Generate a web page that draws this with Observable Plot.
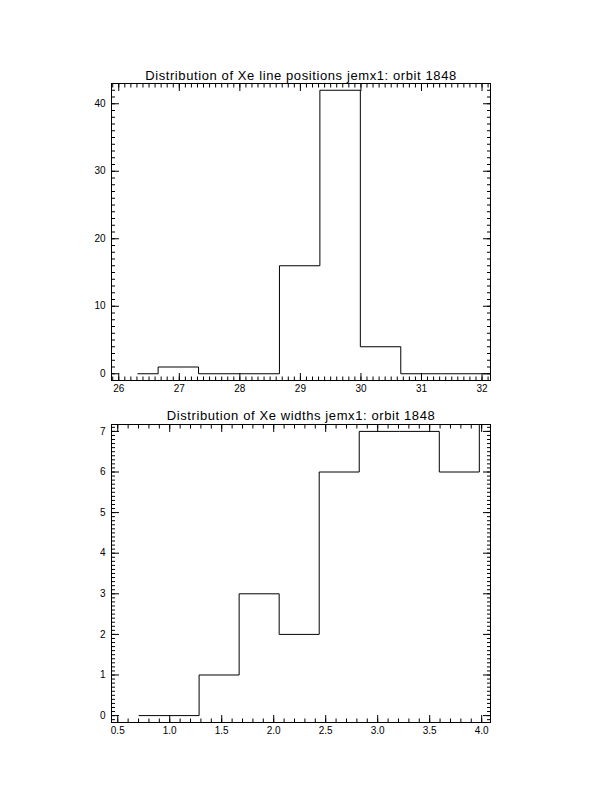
<!DOCTYPE html>
<html>
<head>
<meta charset="utf-8">
<script src="https://cdn.jsdelivr.net/npm/d3@7"></script>
<script src="https://cdn.jsdelivr.net/npm/@observablehq/plot@0.6"></script>
<style>
  html, body { margin: 0; padding: 0; background: #fff; }
  #wrap { width: 612px; height: 792px; position: relative; }
  #wrap svg { display: block; }
  #wrap svg .panel-title, #wrap svg .panel-title text { letter-spacing: 0.6px; }
</style>
</head>
<body>
<div id="wrap"></div>
<script>
// Histogram of fitted Xe line positions (bin centres and counts)
const posTitle = "Distribution of Xe line positions jemx1: orbit 1848";
const posCenters = [26.316, 26.984, 27.652, 28.32, 28.988, 29.656, 30.324, 30.992, 31.66, 32.328];
const posCounts = [0, 1, 0, 0, 16, 42, 4, 0, 0, 0];
const posXTicks = [26, 27, 28, 29, 30, 31, 32];
const posYTicks = [0, 10, 20, 30, 40];

// Histogram of fitted Xe line widths
const widTitle = "Distribution of Xe widths jemx1: orbit 1848";
const widCenters = [0.705, 1.09, 1.475, 1.86, 2.245, 2.63, 3.015, 3.4, 3.785, 4.17];
const widCounts = [0, 0, 1, 3, 2, 6, 7, 7, 6, 8];
const widXTicks = [0.5, 1.0, 1.5, 2.0, 2.5, 3.0, 3.5, 4.0];
const widYTicks = [0, 1, 2, 3, 4, 5, 6, 7];

const FONT = "Liberation Sans, Arial, Helvetica, sans-serif";
const blank = () => "";

// IDL-style boxed histogram: inward ticks on all four sides, step line through bin centres
function histPanel({title, centers, counts, xDomain, yDomain, xTicks, yTicks, xMinor, yMinor, xFormat, yFormat, margins, height, titleDy}) {
  const rows = centers.map((c, i) => ({x: c, y: counts[i]}));
  const tickAxes = [];
  for (const anchor of ["bottom", "top"]) {
    tickAxes.push(Plot.axisX({anchor, ticks: xTicks, tickSize: -7, tickFormat: blank, label: null, strokeWidth: 1}));
    tickAxes.push(Plot.axisX({anchor, ticks: xMinor, tickSize: -3.5, tickFormat: blank, label: null, strokeWidth: 1}));
  }
  for (const anchor of ["left", "right"]) {
    tickAxes.push(Plot.axisY({anchor, ticks: yTicks, tickSize: -8, tickFormat: blank, label: null, strokeWidth: 1}));
    tickAxes.push(Plot.axisY({anchor, ticks: yMinor, tickSize: -4, tickFormat: blank, label: null, strokeWidth: 1}));
  }
  return Plot.plot({
    width: 612,
    height,
    ...margins,
    style: {fontFamily: FONT, fontSize: "10px", color: "#000", background: "#fff", overflow: "visible"},
    x: {domain: xDomain, axis: null},
    y: {domain: yDomain, axis: null},
    marks: [
      Plot.line(rows, {x: "x", y: "y", curve: "step", stroke: "#000", strokeWidth: 1, clip: true}),
      ...tickAxes,
      Plot.axisX({anchor: "bottom", ticks: xTicks, tickSize: 0, tickPadding: 4, tickFormat: xFormat, label: null, fontSize: 10}),
      Plot.axisY({anchor: "left", ticks: yTicks, tickSize: 0, tickPadding: 6, tickFormat: yFormat, label: null, fontSize: 10}),
      Plot.frame({stroke: "#000", strokeWidth: 1}),
      Plot.text([title], {frameAnchor: "top", lineAnchor: "bottom", dy: titleDy, fontSize: 13, fill: "#000", className: "panel-title"})
    ]
  });
}

const wrap = document.getElementById("wrap");

wrap.appendChild(histPanel({
  title: posTitle,
  centers: posCenters,
  counts: posCounts,
  xDomain: [25.88, 32.14],
  yDomain: [-1, 43],
  xTicks: posXTicks,
  yTicks: posYTicks,
  xMinor: d3.range(259, 322).map(d => d / 10),
  yMinor: d3.range(0, 43),
  xFormat: d3.format("d"),
  yFormat: d3.format("d"),
  margins: {marginLeft: 111, marginRight: 122, marginTop: 83, marginBottom: 16},
  height: 396,
  titleDy: -4
}));

wrap.appendChild(histPanel({
  title: widTitle,
  centers: widCenters,
  counts: widCounts,
  xDomain: [0.44, 4.085],
  yDomain: [-0.17, 7.17],
  xTicks: widXTicks,
  yTicks: widYTicks,
  xMinor: d3.range(5, 41).map(d => d / 10),
  yMinor: d3.range(-1, 72).map(d => d / 10),
  xFormat: d3.format(".1f"),
  yFormat: d3.format("d"),
  margins: {marginLeft: 111, marginRight: 122, marginTop: 28, marginBottom: 70},
  height: 396,
  titleDy: -5
}));
</script>
</body>
</html>
